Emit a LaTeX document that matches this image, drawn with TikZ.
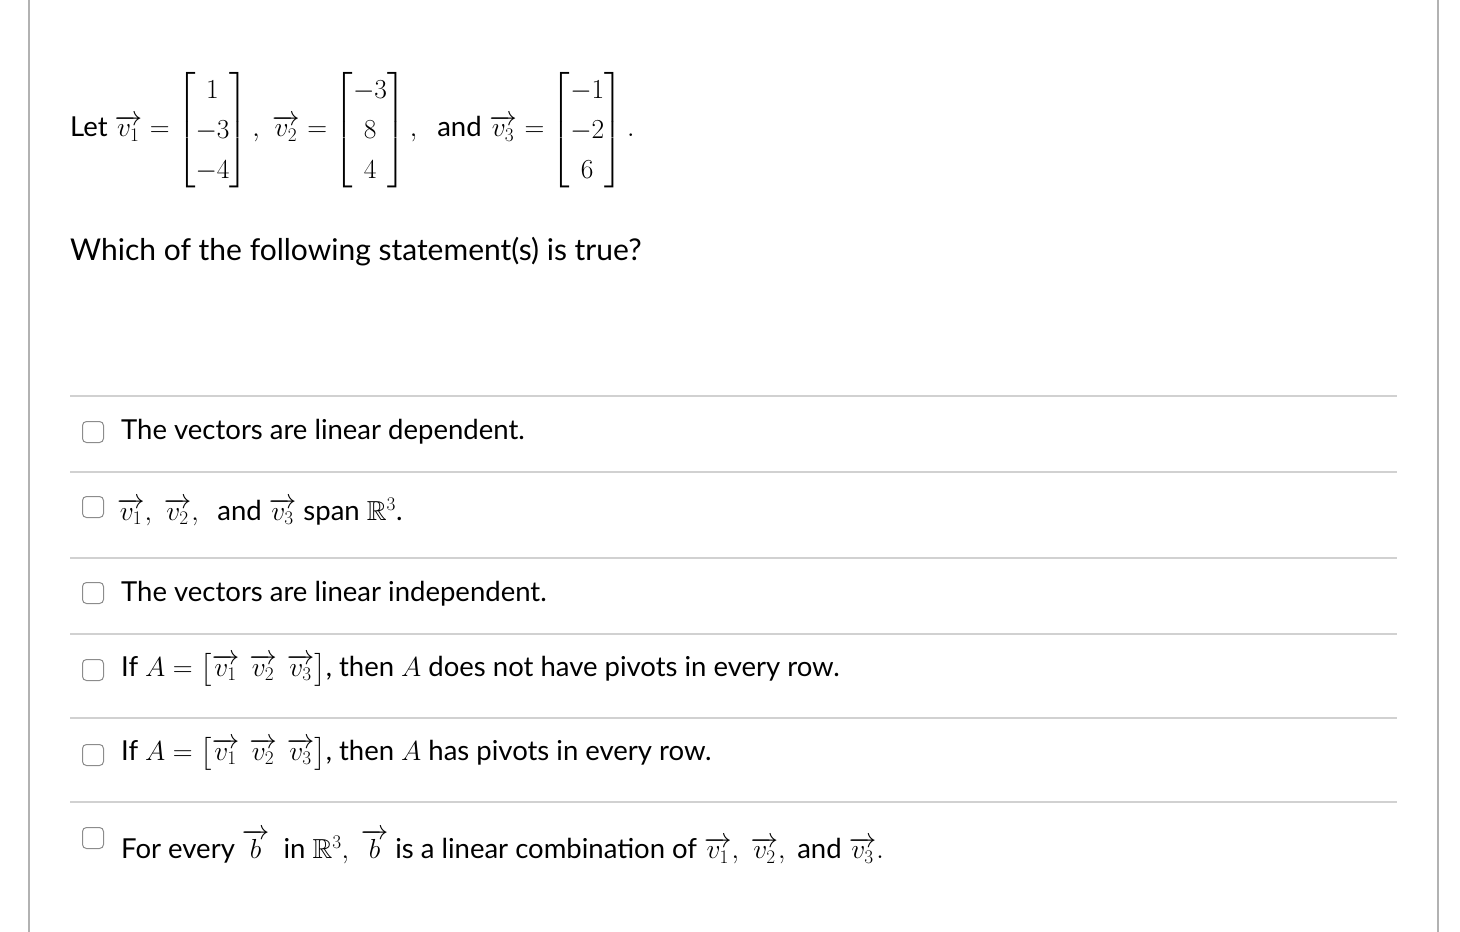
\RequirePackage{fix-cm}
\documentclass[tikz,border=0pt]{standalone}
\usepackage{amsmath,amssymb}
\usepackage{fontspec}
\setmainfont{Lato}
\newcommand{\vv}[1]{\overrightarrow{v_{#1}}}
\begin{document}
\begin{tikzpicture}[x=1pt,y=-1pt,
  txt/.style={anchor=west,inner sep=0pt,font=\fontsize{27.5}{32}\selectfont},
  big/.style={anchor=west,inner sep=0pt,font=\fontsize{30}{34}\selectfont},
  sep/.style={draw=black!18,line width=1.5pt},
  cbox/.style={draw=black!45,line width=1pt,rounded corners=4pt,minimum size=21pt,inner sep=0pt}]
\useasboundingbox (0,0) rectangle (1460,932);
\draw[black!30,line width=1.5pt] (29,0) -- (29,932) (1438,0) -- (1438,932);
\node[txt] (let) at (70,130) {Let $\vv1=\renewcommand{\arraystretch}{1.25}\begin{bmatrix}\;1\;\\-3\\-4\end{bmatrix},\;\vv2=\begin{bmatrix}-3\\8\\4\end{bmatrix},\;\;\mathrm{and}\;\vv3=\begin{bmatrix}-1\\-2\\6\end{bmatrix}.$};
\node[big] (q) at (70,252) {Which of the following statement(s) is true?};
\foreach \y in {396,472,558,634,718,802} \draw[sep] (70,\y) -- (1397,\y);
\foreach \n/\y in {1/432,2/507,3/593,4/670,5/755,6/838} \node[cbox] (c\n) at (93,\y) {};
\node[txt] (s1) at (121,432) {The vectors are linear dependent.};
\node[txt] (s2) at (117,512) {$\vv1,\ \vv2,\ \ \mathrm{and}\ \vv3$ span $\mathbb{R}^3$.};
\node[txt] (s3) at (121,594) {The vectors are linear independent.};
\node[txt] (s4) at (121,670) {If $A=\begin{bmatrix}\vv1 & \vv2 & \vv3\end{bmatrix}$, then $A$ does not have pivots in every row.};
\node[txt] (s5) at (121,754) {If $A=\begin{bmatrix}\vv1 & \vv2 & \vv3\end{bmatrix}$, then $A$ has pivots in every row.};
\node[txt] (s6) at (121,847) {For every $\overrightarrow{b}$ $\ \mathrm{in}\ \mathbb{R}^3,\ \overrightarrow{b}$ is a linear combination of $\vv1,\ \vv2,\ \mathrm{and}\ \vv3.$};
\end{tikzpicture}
\end{document}
